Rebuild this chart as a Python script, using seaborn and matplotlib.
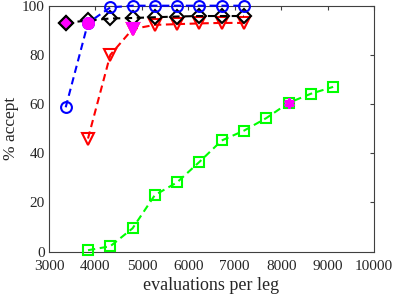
import numpy as np
import pandas as pd
import matplotlib
matplotlib.use('Agg')
import matplotlib.pyplot as plt
import seaborn as sns

# evaluations per leg for each run
evals_short = [3360, 3840, 4320, 4800, 5280, 5760, 6240, 6720, 7200]
evals_red = [3840, 4320, 4800, 5280, 5760, 6240, 6720, 7200]
evals_green = [3840, 4320, 4800, 5280, 5760, 6240, 6720, 7200, 7680, 8160, 8640, 9120]

# % accept
blue_acc = [58.7, 93, 99.3, 100, 100, 100, 100, 100, 100]
black_acc = [93, 94, 94.8, 95, 95.3, 95.6, 95.8, 95.8, 95.8]
red_acc = [46, 80, 90.5, 92.2, 92.5, 92.8, 93, 93]
green_acc = [0.6, 2.2, 9.5, 23, 28.2, 36.5, 45.2, 49.2, 54.3, 60.5, 64.2, 67]

# highlighted (best) points
best_x = {'black': 3360, 'blue': 3840, 'red': 4800, 'green': 8160}

sns.set_style('white')
plt.rcParams['font.family'] = ['Liberation Serif', 'DejaVu Serif']

fig = plt.figure(figsize=(3.99, 2.98), dpi=100)
ax = fig.add_axes([0.1228, 0.1554, 0.8145, 0.8255])

series = [
    (evals_green, green_acc, '#00ff00', 's', 'green', 6.5),
    (evals_red, red_acc, '#ff0000', 'v', 'red', 8.5),
    (evals_short, black_acc, '#000000', 'D', 'black', 7.0),
    (evals_short, blue_acc, '#0000ff', 'o', 'blue', 7.8),
]

for xs, ys, col, mk, name, ms in series:
    df = pd.DataFrame({'x': xs, 'y': ys})
    sns.lineplot(data=df, x='x', y='y', ax=ax, color=col, linestyle=(0, (3.5, 2.2)),
                 linewidth=1.5, marker=mk, markersize=ms, markerfacecolor='none',
                 markeredgecolor=col, markeredgewidth=1.5, zorder=3, clip_on=False)

# magenta highlighted points
for xs, ys, col, mk, name, ms in series:
    bx = best_x[name]
    by = ys[xs.index(bx)]
    if name == 'green':
        ax.plot(bx, by, marker=(6, 2, 0), markersize=7.5, color='#ff00ff',
                markeredgewidth=2.2, zorder=5)
        ax.plot(bx, by, marker='o', markersize=5, color='#ff00ff', zorder=5)
    else:
        ax.plot(bx, by, marker=mk, markersize=ms, markerfacecolor='#ff00ff',
                markeredgecolor='#ff00ff' if name != 'black' else 'black',
                markeredgewidth=1.5, zorder=4 if name == 'blue' else 5)

ax.set_xlim(3000, 10000)
ax.set_ylim(0, 100)
ax.set_xticks(np.arange(3000, 10001, 1000))
ax.set_yticks(np.arange(0, 101, 20))
ax.set_xlabel('evaluations per leg', fontsize=13, color='#262626', labelpad=3)
ax.set_ylabel('% accept', fontsize=12.5, color='#262626', labelpad=2)
ax.tick_params(direction='in', length=3, width=0.8, colors='#404040', labelcolor='#262626',
               labelsize=11, top=True, right=True)
ax.tick_params(axis='x', pad=6)
ax.tick_params(axis='y', pad=3)
for sp in ax.spines.values():
    sp.set_visible(True)
    sp.set_color('#404040')
    sp.set_linewidth(0.8)

fig.savefig('out.png', dpi=100)
